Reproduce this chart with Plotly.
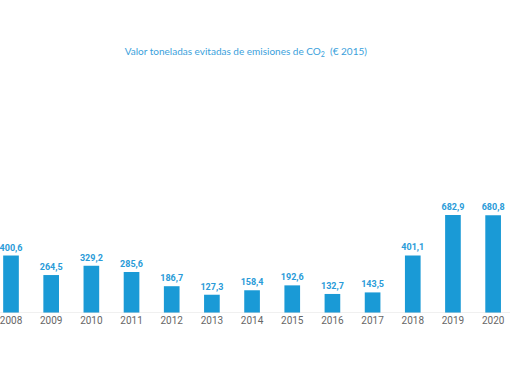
import plotly.graph_objects as go

years = ["2008", "2009", "2010", "2011", "2012", "2013", "2014", "2015", "2016", "2017", "2018", "2019", "2020"]
values = [400.6, 264.5, 329.2, 285.6, 186.7, 127.3, 158.4, 192.6, 132.7, 143.5, 401.1, 682.9, 680.8]
title_text = "Valor toneladas evitadas de emisiones de CO<sub>2</sub>  (€ 2015)"

labels = [f"{v:.1f}".replace(".", ",") for v in values]
pos = list(range(len(years)))

fig = go.Figure(go.Bar(
    x=pos, y=values, text=labels, textposition="outside", constraintext="none",
    textfont=dict(family="Roboto", size=9, color="#2a9bd8", weight="bold"),
    marker=dict(color="#1a9ad6", line=dict(width=0)),
    width=0.39, cliponaxis=False,
))

fig.update_layout(
    width=510, height=382,
    margin=dict(l=0, r=0, t=26, b=69, autoexpand=False),
    paper_bgcolor="white", plot_bgcolor="white",
    showlegend=False,
    title=dict(text=title_text, x=0.482, xanchor="center", y=0.865, yanchor="middle",
               font=dict(family="Lato", size=10, color="#3a9fdc")),
    xaxis=dict(range=[-0.274, 12.42], tickmode="array", tickvals=pos, ticktext=years,
               showgrid=False, zeroline=False, showline=False, ticks="", automargin=False,
               ticklabeloverflow="allow",
               tickfont=dict(family="Roboto", size=10, color="#666666")),
    yaxis=dict(range=[0, 2000], visible=False, automargin=False),
    shapes=[dict(type="line", xref="paper", yref="y", x0=0, x1=1, y0=0, y1=0,
                 line=dict(color="#e0e0e0", width=1))],
)

fig.write_html("out.html", config={"displayModeBar": False},
               post_script="document.body.style.margin='0';document.body.style.overflow='hidden';")
